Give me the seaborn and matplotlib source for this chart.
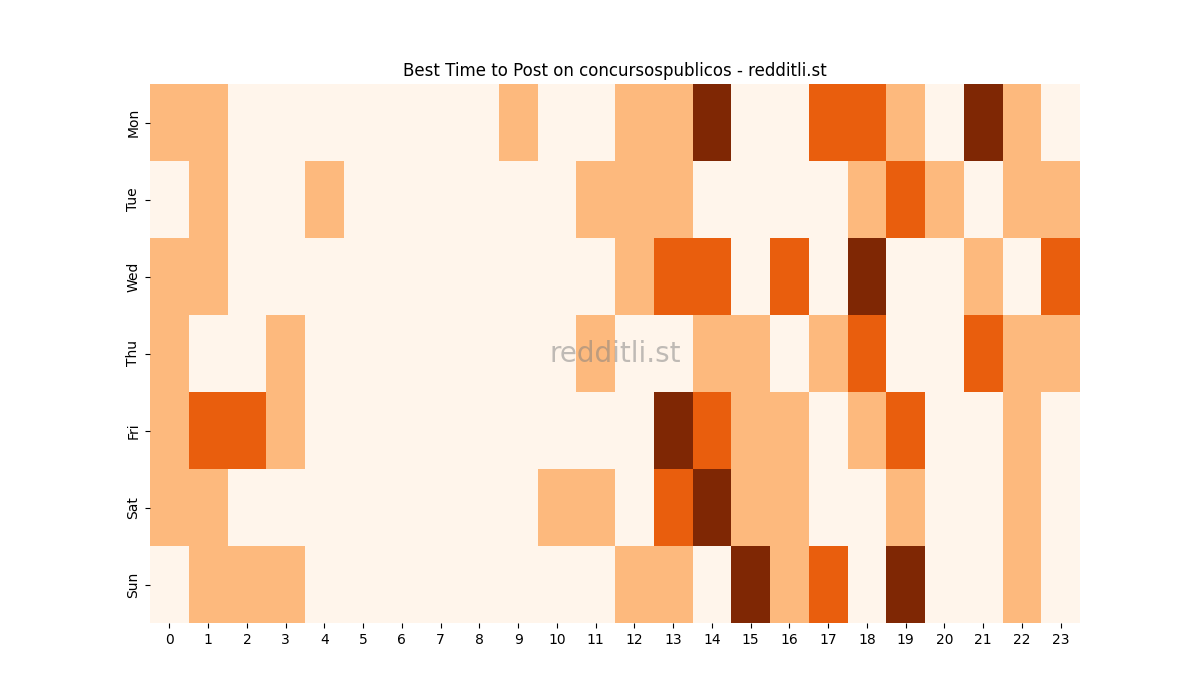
import numpy as np
import pandas as pd
import matplotlib
matplotlib.use("Agg")
import matplotlib.pyplot as plt
import seaborn as sns

days = ["Mon", "Tue", "Wed", "Thu", "Fri", "Sat", "Sun"]
hours = list(range(24))

# activity level per hour (0-3)
mon = [1, 1, 0, 0, 0, 0, 0, 0, 0, 1, 0, 0, 1, 1, 3, 0, 0, 2, 2, 1, 0, 3, 1, 0]
tue = [0, 1, 0, 0, 1, 0, 0, 0, 0, 0, 0, 1, 1, 1, 0, 0, 0, 0, 1, 2, 1, 0, 1, 1]
wed = [1, 1, 0, 0, 0, 0, 0, 0, 0, 0, 0, 0, 1, 2, 2, 0, 2, 0, 3, 0, 0, 1, 0, 2]
thu = [1, 0, 0, 1, 0, 0, 0, 0, 0, 0, 0, 1, 0, 0, 1, 1, 0, 1, 2, 0, 0, 2, 1, 1]
fri = [1, 2, 2, 1, 0, 0, 0, 0, 0, 0, 0, 0, 0, 3, 2, 1, 1, 0, 1, 2, 0, 0, 1, 0]
sat = [1, 1, 0, 0, 0, 0, 0, 0, 0, 0, 1, 1, 0, 2, 3, 1, 1, 0, 0, 1, 0, 0, 1, 0]
sun = [0, 1, 1, 1, 0, 0, 0, 0, 0, 0, 0, 0, 1, 1, 0, 3, 1, 2, 0, 3, 0, 0, 1, 0]

df = pd.DataFrame([mon, tue, wed, thu, fri, sat, sun], index=days, columns=hours)

fig, ax = plt.subplots(figsize=(12, 7), dpi=100)
sns.heatmap(df, cmap="Oranges", vmin=0, vmax=3, cbar=False, ax=ax)
ax.set_title("Best Time to Post on concursospublicos - redditli.st", fontsize=12)
ax.set_xlabel("")
ax.set_ylabel("")
ax.tick_params(axis='y', labelrotation=90)
ax.tick_params(axis='x', labelrotation=0)
ax.text(0.5, 0.5, "redditli.st", transform=ax.transAxes, fontsize=20,
        color="gray", alpha=0.5, ha="center", va="center")

plt.savefig("out.png")
